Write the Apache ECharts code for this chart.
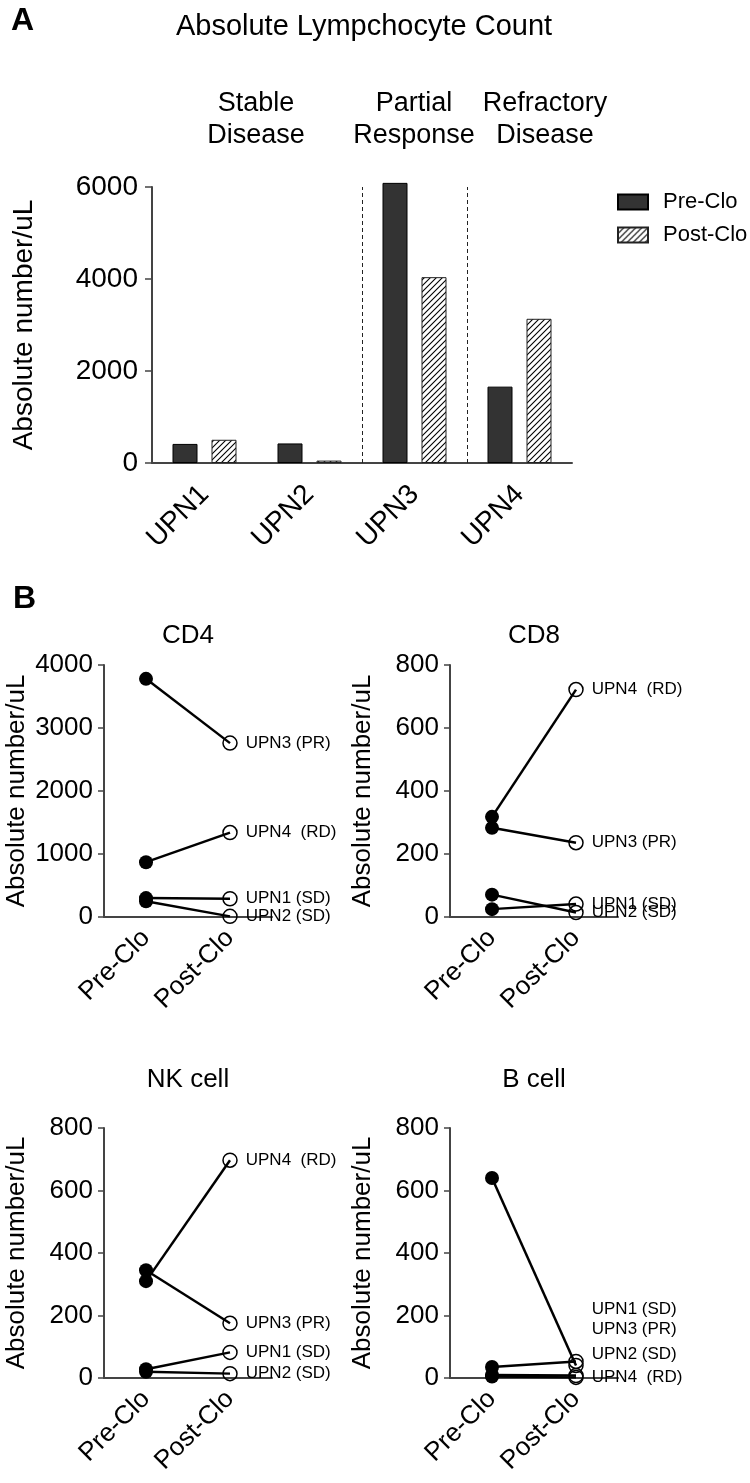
<!DOCTYPE html>
<html>
<head>
<meta charset="UTF-8">
<title>Absolute Lymphocyte Count</title>
<script src="https://cdn.jsdelivr.net/npm/echarts@6/dist/echarts.min.js"></script>
<style>
  html, body { margin: 0; padding: 0; background: #fff; }
  #main { width: 750px; height: 1483px; }
</style>
</head>
<body>
<div id="main"></div>
<script>
// ---- panel A data ----
var patients = ['UPN1', 'UPN2', 'UPN3', 'UPN4'];
var preClo = [415, 425, 6090, 1660];
var postClo = [505, 52, 4040, 3135];
var groupNames = ['Stable\nDisease', 'Partial\nResponse', 'Refractory\nDisease'];
var dividers = [2, 3];          // dashed lines between patient groups (category boundaries)
var ticksA = [0, 6000, 2000];   // min, max, interval

// ---- panel B data (per patient: [pre, post]) ----
var timepoints = ['Pre-Clo', 'Post-Clo'];
var patientLabels = ['UPN1 (SD)', 'UPN2 (SD)', 'UPN3 (PR)', 'UPN4  (RD)'];
var cd4 = [[300, 290], [250, 10], [3780, 2760], [870, 1340]];
var cd8 = [[25, 41], [71, 14], [283, 236], [318, 722]];
var nkCell = [[28, 82], [20, 14], [345, 175], [310, 697]];
var bCell = [[10, 8], [35, 53], [640, 40], [5, 2]];
var panelTitles = ['CD4', 'CD8', 'NK cell', 'B cell'];
var panelMax = [4000, 800, 800, 800];
var panelStep = [1000, 200, 200, 200];

var FONT = 'Liberation Sans, Arial, sans-serif';
var AXIS = '#444';

// diagonal hatch for the Post-Clo bars
function makeHatch() {
  var c = document.createElement('canvas');
  c.width = 6; c.height = 6;
  var g = c.getContext('2d');
  g.fillStyle = '#fff';
  g.fillRect(0, 0, 6, 6);
  g.strokeStyle = '#000';
  g.lineWidth = 1.1;
  g.beginPath();
  g.moveTo(0, 6); g.lineTo(6, 0);
  g.moveTo(-1, 1); g.lineTo(1, -1);
  g.moveTo(5, 7); g.lineTo(7, 5);
  g.stroke();
  return c;
}

function plain(v) { return String(v); }

var grids = [
  { left: 152, top: 187, width: 420, height: 276 },
  { left: 104, top: 665, width: 168, height: 252 },
  { left: 450, top: 665, width: 168, height: 252 },
  { left: 104, top: 1128, width: 168, height: 250 },
  { left: 450, top: 1128, width: 168, height: 250 }
];

var xAxes = [{
  gridIndex: 0, type: 'category', data: patients,
  axisLine: { lineStyle: { color: AXIS, width: 2 } },
  axisTick: { alignWithLabel: true, length: 8, lineStyle: { color: AXIS, width: 1.5 } },
  axisLabel: { rotate: 45, fontSize: 28, color: '#000', fontFamily: FONT, margin: 27 }
}];
var yAxes = [{
  gridIndex: 0, type: 'value', min: ticksA[0], max: ticksA[1], interval: ticksA[2],
  name: 'Absolute number/uL', nameLocation: 'middle', nameGap: 114,
  nameTextStyle: { fontSize: 28, color: '#000', fontFamily: FONT },
  axisLine: { show: true, lineStyle: { color: AXIS, width: 2 } },
  axisTick: { show: true, length: 7, lineStyle: { color: AXIS, width: 1.5 } },
  axisLabel: { fontSize: 28, color: '#000', fontFamily: FONT, margin: 14, formatter: plain },
  splitLine: { show: false }
}];

var series = [
  {
    type: 'bar', name: 'Pre-Clo', xAxisIndex: 0, yAxisIndex: 0, data: preClo,
    barWidth: 25, barGap: '56%', clip: false,
    itemStyle: { color: '#333', borderColor: '#000', borderWidth: 1 }
  },
  {
    type: 'bar', name: 'Post-Clo', xAxisIndex: 0, yAxisIndex: 0, data: postClo,
    barWidth: 25, clip: false,
    itemStyle: { color: { image: makeHatch(), repeat: 'repeat' }, borderColor: '#222', borderWidth: 1 }
  }
];

// B cell labels sit away from their crowded points
var labelShift = [[0, 0, 0, 0], [0, 0, 0, 0], [0, 0, 0, 0], [-66, -7, -36, 0]];

[cd4, cd8, nkCell, bCell].forEach(function (panel, p) {
  var k = p + 1;
  xAxes.push({
    gridIndex: k, type: 'category', data: timepoints,
    axisLine: { lineStyle: { color: AXIS, width: 2 } },
    axisTick: { alignWithLabel: true, length: 7, lineStyle: { color: AXIS, width: 1.5 } },
    axisLabel: { rotate: 45, fontSize: 26, color: '#000', fontFamily: FONT, margin: 17 }
  });
  yAxes.push({
    gridIndex: k, type: 'value', min: 0, max: panelMax[p], interval: panelStep[p],
    name: 'Absolute number/uL', nameLocation: 'middle', nameGap: 74,
    nameTextStyle: { fontSize: 26, color: '#000', fontFamily: FONT },
    axisLine: { show: true, lineStyle: { color: AXIS, width: 2 } },
    axisTick: { show: true, length: 6, lineStyle: { color: AXIS, width: 1.5 } },
    axisLabel: { fontSize: 26, color: '#000', fontFamily: FONT, margin: 11, formatter: plain },
    splitLine: { show: false }
  });
  panel.forEach(function (vals, i) {
    series.push({
      type: 'line', xAxisIndex: k, yAxisIndex: k, clip: false,
      symbol: 'circle', symbolSize: 14,
      lineStyle: { color: '#000', width: 2.5 },
      itemStyle: { color: '#000' },
      data: [
        { value: vals[0], itemStyle: { color: '#000' } },
        {
          value: vals[1],
          itemStyle: { color: 'rgba(0,0,0,0)', borderColor: '#000', borderWidth: 1.5 },
          label: {
            show: true, position: 'right', distance: 8,
            offset: [0, labelShift[p][i]],
            formatter: patientLabels[i],
            fontSize: 17, color: '#000', fontFamily: FONT
          }
        }
      ]
    });
  });
});

// hidden value axis over panel A, used only to place the group dividers
xAxes.push({ gridIndex: 0, type: 'value', min: 0, max: patients.length, show: false });
series.push({
  type: 'line', xAxisIndex: xAxes.length - 1, yAxisIndex: 0, data: [],
  markLine: {
    silent: true, symbol: 'none', label: { show: false },
    lineStyle: { type: [4, 3], color: '#222', width: 1 },
    data: dividers.map(function (d) { return { xAxis: d }; })
  }
});

var graphics = [
  { type: 'text', left: 11, top: 5, style: { text: 'A', font: 'bold 32px ' + FONT, fill: '#000' } },
  { type: 'text', left: 13, top: 583, style: { text: 'B', font: 'bold 32px ' + FONT, fill: '#000' } },
  { type: 'text', x: 364, y: 27, style: { text: 'Absolute Lympchocyte Count', font: '29px ' + FONT, fill: '#000', textAlign: 'center', textVerticalAlign: 'middle' } }
];
var groupX = [256, 414, 545];
groupNames.forEach(function (g, i) {
  graphics.push({ type: 'text', x: groupX[i], y: 120,
    style: { text: g, font: '27px ' + FONT, lineHeight: 32, fill: '#000', textAlign: 'center', textVerticalAlign: 'middle' } });
});
var titlePos = [[188, 636], [534, 636], [188, 1080], [534, 1080]];
panelTitles.forEach(function (t, i) {
  graphics.push({ type: 'text', x: titlePos[i][0], y: titlePos[i][1],
    style: { text: t, font: '26px ' + FONT, fill: '#000', textAlign: 'center', textVerticalAlign: 'middle' } });
});

var option = {
  animation: false,
  backgroundColor: '#fff',
  textStyle: { fontFamily: FONT },
  grid: grids,
  xAxis: xAxes,
  yAxis: yAxes,
  legend: {
    data: ['Pre-Clo', 'Post-Clo'],
    orient: 'vertical', left: 612, top: 186,
    icon: 'rect', itemWidth: 30, itemHeight: 15, itemGap: 11,
    textStyle: { fontSize: 22, color: '#000', fontFamily: FONT, padding: [0, 0, 0, 10] }
  },
  graphic: graphics,
  series: series
};

var chart = echarts.init(document.getElementById('main'));
chart.setOption(option);
</script>
</body>
</html>
